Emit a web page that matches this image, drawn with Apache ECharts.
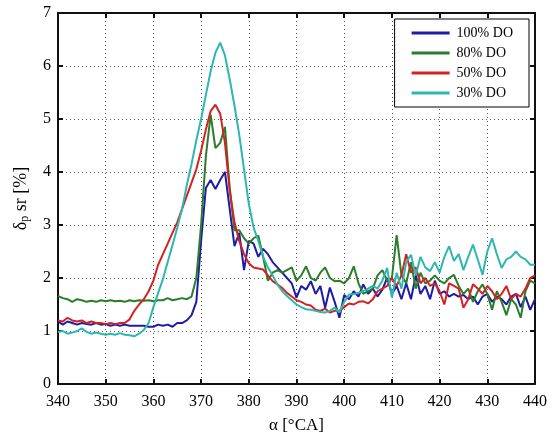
<!DOCTYPE html>
<html>
<head>
<meta charset="utf-8">
<script src="https://cdn.jsdelivr.net/npm/echarts@6/dist/echarts.min.js"></script>
<style>html,body{margin:0;padding:0;background:#fff;}#c{width:560px;height:439px;}</style>
</head>
<body>
<div id="c"></div>
<script>
// crank angle, degrees: 340 .. 440 step 1
const angles = [];
for (let a = 340; a <= 440; a++) angles.push(a);

const seriesNames = ['100% DO', '80% DO', '50% DO', '30% DO'];

const do100 = [
 1.18,1.12,1.18,1.15,1.12,1.15,1.13,1.12,1.15,1.12,
 1.13,1.10,1.12,1.10,1.12,1.10,1.10,1.10,1.10,1.08,
 1.08,1.12,1.10,1.12,1.08,1.15,1.15,1.20,1.30,1.55,
 2.70,3.70,3.85,3.68,3.85,4.00,3.30,2.60,2.85,2.15,
 2.70,2.65,2.40,2.55,2.45,2.30,2.20,2.10,2.00,1.90,
 1.63,1.85,1.78,1.94,1.70,1.85,1.44,1.82,1.55,1.25,
 1.68,1.60,1.75,1.65,1.88,1.70,1.80,1.65,1.78,2.00,
 1.70,1.85,1.60,1.90,1.60,2.05,1.70,1.85,1.60,1.95,
 1.70,1.75,1.65,1.70,1.65,1.68,1.60,1.65,1.50,1.65,
 1.70,1.55,1.65,1.60,1.50,1.65,1.70,1.45,1.65,1.40,
 1.60
];
const do80 = [
 1.66,1.62,1.60,1.55,1.60,1.58,1.55,1.57,1.55,1.58,
 1.56,1.58,1.56,1.57,1.55,1.58,1.56,1.58,1.57,1.58,
 1.56,1.58,1.58,1.62,1.58,1.60,1.62,1.60,1.65,2.00,
 3.00,4.30,5.08,4.45,4.55,4.85,3.70,2.90,2.90,2.75,
 2.65,2.75,2.80,2.40,1.95,2.10,2.15,2.10,2.15,2.20,
 1.95,2.05,2.22,2.00,1.95,2.10,2.20,2.00,1.94,1.95,
 1.90,2.00,2.22,1.90,1.70,1.75,1.80,2.05,2.15,1.95,
 2.00,2.81,2.05,1.90,2.30,1.80,2.10,1.90,1.95,2.05,
 1.95,1.90,2.00,2.06,1.85,1.70,1.80,1.55,1.75,1.88,
 1.70,1.40,1.75,1.55,1.30,1.60,1.50,1.25,1.75,1.95,
 1.90
];
const do50 = [
 1.20,1.18,1.25,1.20,1.18,1.20,1.15,1.18,1.15,1.15,
 1.13,1.15,1.13,1.15,1.15,1.22,1.38,1.50,1.60,1.75,
 1.95,2.25,2.45,2.65,2.85,3.05,3.30,3.55,3.80,4.05,
 4.40,4.80,5.15,5.27,5.10,4.55,3.65,3.05,2.70,2.45,
 2.28,2.20,2.18,2.16,2.05,1.94,1.88,1.81,1.72,1.65,
 1.58,1.55,1.50,1.48,1.40,1.38,1.42,1.35,1.38,1.38,
 1.45,1.52,1.50,1.55,1.56,1.52,1.60,1.75,1.80,1.85,
 2.00,1.85,2.05,2.45,2.10,2.20,1.90,2.00,1.85,1.90,
 1.75,1.50,1.90,1.85,1.80,1.44,1.60,1.88,1.80,1.70,
 1.85,1.75,1.60,1.70,1.85,1.60,1.70,1.65,1.80,2.00,
 2.05
];
const do30 = [
 0.98,1.00,0.95,0.97,1.00,1.05,0.98,0.95,0.97,0.95,
 0.93,0.95,0.93,0.96,0.93,0.92,0.90,0.95,1.02,1.15,
 1.45,1.72,1.98,2.30,2.62,2.95,3.30,3.75,4.15,4.60,
 5.00,5.45,5.90,6.25,6.44,6.20,5.75,5.25,4.70,4.05,
 3.40,2.95,2.70,2.40,2.20,2.05,1.88,1.75,1.66,1.58,
 1.50,1.45,1.41,1.40,1.38,1.36,1.35,1.38,1.44,1.35,
 1.55,1.69,1.70,1.72,1.75,1.80,1.85,1.80,1.95,2.19,
 1.63,2.10,1.80,2.30,2.44,2.05,2.40,2.20,2.13,2.30,
 2.10,2.40,2.60,2.32,2.45,2.15,2.40,2.63,2.35,2.06,
 2.50,2.75,2.45,2.19,2.35,2.40,2.50,2.40,2.35,2.25,
 2.25
];

const colors = ['#1c1ca6', '#2a7d2a', '#d42222', '#2cb8b0'];
const values = [do100, do80, do50, do30];

const font = 'Liberation Serif';
const chart = echarts.init(document.getElementById('c'), null, {renderer: 'canvas'});

const gridLine = {show: true, lineStyle: {color: '#555', width: 1, type: [1, 3]}};
const baseX = {type: 'value', min: 340, max: 440, interval: 10};
const baseY = {type: 'value', min: 0, max: 7, interval: 1};
const frame = {show: true, onZero: false, lineStyle: {color: '#111', width: 2}};
const tick = {show: true, inside: true, length: 5, lineStyle: {color: '#111', width: 2}};

chart.setOption({
  animation: false,
  backgroundColor: '#fff',
  color: colors,
  grid: {left: 58, right: 25, top: 13, bottom: 52, containLabel: false},
  legend: {
    data: seriesNames,
    orient: 'vertical',
    right: 31, top: 19,
    backgroundColor: '#fff',
    borderColor: '#000', borderWidth: 1,
    padding: [7, 16, 7, 17],
    itemWidth: 38, itemHeight: 3, itemGap: 6,
    icon: 'rect',
    textStyle: {fontFamily: font, fontSize: 14, color: '#000', padding: [0, 0, 0, 2]}
  },
  xAxis: [
    Object.assign({}, baseX, {
      position: 'bottom',
      axisLine: frame, axisTick: tick, splitLine: gridLine,
      axisLabel: {fontFamily: font, fontSize: 16, color: '#000', margin: 10},
      name: 'α [°CA]', nameLocation: 'middle', nameGap: 33,
      nameTextStyle: {fontFamily: font, fontSize: 17, color: '#000'}
    }),
    Object.assign({}, baseX, {
      position: 'top',
      axisLine: frame, axisTick: tick, splitLine: {show: false},
      axisLabel: {show: false}
    })
  ],
  yAxis: [
    Object.assign({}, baseY, {
      position: 'left',
      axisLine: frame, axisTick: tick, splitLine: gridLine,
      axisLabel: {fontFamily: font, fontSize: 16, color: '#000', margin: 7},
      name: '{a|δ}{s|p}{a| sr [%]}', nameLocation: 'middle', nameGap: 27,
      nameTextStyle: {
        fontFamily: font, fontSize: 18, color: '#000',
        rich: {
          a: {fontFamily: font, fontSize: 18, color: '#000'},
          s: {fontFamily: font, fontSize: 12, color: '#000', verticalAlign: 'bottom', padding: [8, 0, 0, 0]}
        }
      }
    }),
    Object.assign({}, baseY, {
      position: 'right',
      axisLine: frame, axisTick: tick, splitLine: {show: false},
      axisLabel: {show: false}
    })
  ],
  series: seriesNames.map((name, i) => ({
    name: name,
    type: 'line',
    xAxisIndex: 0, yAxisIndex: 0,
    symbol: 'none',
    lineStyle: {width: 2, color: colors[i]},
    itemStyle: {color: colors[i]},
    data: angles.map((a, k) => [a, values[i][k]])
  }))
});
</script>
</body>
</html>
